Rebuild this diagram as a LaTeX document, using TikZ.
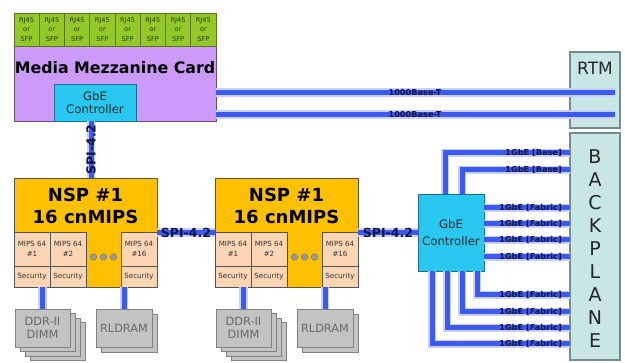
\documentclass[tikz,border=0pt]{standalone}
\usepackage{fontspec}
\setmainfont{DejaVu Sans}
\definecolor{mgreen}{RGB}{146,200,40}
\definecolor{mgreenb}{RGB}{95,115,35}
\definecolor{mgtext}{RGB}{40,60,10}
\definecolor{mpurple}{RGB}{204,155,250}
\definecolor{mpurpleb}{RGB}{100,80,120}
\definecolor{gcyan}{RGB}{40,200,240}
\definecolor{gcyanb}{RGB}{30,110,140}
\definecolor{nyel}{RGB}{255,192,0}
\definecolor{peach}{RGB}{252,213,180}
\definecolor{dkb}{RGB}{85,85,85}
\definecolor{bpfill}{RGB}{200,230,230}
\definecolor{bpb}{RGB}{120,140,140}
\definecolor{gfill}{RGB}{195,195,195}
\definecolor{gbord}{RGB}{130,130,130}
\definecolor{gtext}{RGB}{105,105,105}
\definecolor{lcore}{RGB}{60,90,240}
\definecolor{lglow}{RGB}{200,208,255}
\definecolor{ltext}{RGB}{20,20,70}
\newcommand\fsz[2]{\fontsize{#1}{#2}\selectfont}
\begin{document}
\begin{tikzpicture}[x=1pt,y=-1pt,
  rbox/.style={rectangle, draw, inner sep=0pt, line width=0.9pt, align=center},
  rjcell/.style={rbox, fill=mgreen, draw=mgreenb, minimum width=25.25pt, minimum height=33pt, font=\fsz{6.6}{9.5}, text=mgtext},
  purplebox/.style={rbox, fill=mpurple, draw=mpurpleb},
  gbebox/.style={rbox, fill=gcyan, draw=gcyanb, font=\fsz{11.7}{13}, text=black!85},
  nspbox/.style={rbox, fill=nyel, draw=dkb},
  peachcell/.style={rbox, fill=peach, draw=dkb, minimum width=36pt, font=\fsz{7.1}{10}, text=black!80},
  graybox/.style={rbox, fill=gfill, draw=gbord, font=\fsz{11.3}{13}, text=gtext},
  sidebox/.style={rbox, fill=bpfill, draw=bpb, line width=1.1pt},
  dotc/.style={circle, draw=black!55, fill=black!40, inner sep=0pt, minimum size=6.5pt},
  link/.style={line width=5pt, draw=lcore, preaction={draw=lglow, line width=8.5pt}},
  spilbl/.style={font=\bfseries\fsz{12.5}{14}, text=ltext, inner sep=0pt},
  lbl/.style={font=\bfseries\fsz{8.2}{9}, text=ltext, inner sep=0pt}
]
\useasboundingbox (0,0) rectangle (625,363);

% ---- side boxes
\node[sidebox, minimum width=50pt, minimum height=76pt] (rtm) at (595,90) {};
\node[font=\fsz{17}{18}, text=black!85] (rtmt) at (595,68) {RTM};
\node[sidebox, minimum width=50pt, minimum height=227pt] (bp) at (595,246.5) {};
\foreach \L [count=\k from 0] in {B,A,C,K,P,L,A,N,E}
  \node[font=\fsz{19}{20}, text=black!85] (bpl\k) at (595,{157+22.9*\k}) {\L};

% ---- Media Mezzanine Card
\node[purplebox, minimum width=202pt, minimum height=75pt] (mmc) at (115,83.5) {};
\foreach \i in {1,...,8}
  \node[rjcell] (rj\i) at ({14+25.25*(\i-0.5)},29.5) {RJ45\\or\\SFP};
\node[font=\bfseries\fsz{15.8}{17}, text=black] (mmct) at (115,67.5) {Media Mezzanine Card};
\node[gbebox, minimum width=82pt, minimum height=37pt] (mgbe) at (95,102.5) {GbE\\Controller};

% ---- NSP blocks
\foreach \n/\dx in {1/0,2/201}{
  \node[nspbox, minimum width=143pt, minimum height=109pt] (nsp\n) at ({85.5+\dx},232.5) {};
  \node[font=\bfseries\fsz{18}{22}, align=center] (nspt\n) at ({85.5+\dx},206) {NSP \#1\\16 cnMIPS};
  \node[peachcell, minimum height=34pt] (ma\n) at ({32+\dx},249) {MIPS 64\\\#1};
  \node[peachcell, minimum height=34pt] (mb\n) at ({68+\dx},249) {MIPS 64\\\#2};
  \node[peachcell, minimum height=34pt, minimum width=36pt] (mc\n) at ({139+\dx},249) {MIPS 64\\\#16};
  \node[peachcell, minimum height=21pt] (sa\n) at ({32+\dx},276.5) {Security};
  \node[peachcell, minimum height=21pt] (sb\n) at ({68+\dx},276.5) {Security};
  \node[peachcell, minimum height=21pt] (sc\n) at ({139+\dx},276.5) {Security};
  \foreach \j in {0,1,2}
    \node[dotc] (dot\n\j) at ({93.5+\dx+10*\j},257) {};
  % memories
  \foreach \k in {3,2,1}
    \node[graybox, minimum width=55pt, minimum height=38pt] (ddrb\n\k) at ({42.5+\dx+5*\k},{328+4.5*\k}) {};
  \node[graybox, minimum width=55pt, minimum height=38pt] (ddr\n) at ({42.5+\dx},328) {DDR-II\\DIMM};
  \node[graybox, minimum width=56pt, minimum height=38pt] (rlb\n) at ({129+\dx},333) {};
  \node[graybox, minimum width=56pt, minimum height=38pt] (rl\n) at ({124+\dx},328) {RLDRAM};
}

% ---- big GbE controller
\node[gbebox, minimum width=66pt, minimum height=77pt, font=\fsz{11.7}{17}] (gbe) at (451,232.5) {GbE\\Controller};

% ---- connectors
\foreach \n in {1,2}{
  \draw[link] (ddr\n.north) -- (ddr\n.north |- nsp\n.south);
  \draw[link] (rl\n.north) -- (rl\n.north |- nsp\n.south);
}
\draw[link] ([xshift=-4pt]mgbe.south) -- ([xshift=-4pt]mgbe.south |- nsp1.north)
  node[midway, spilbl, rotate=90] {SPI-4.2};
\draw[link] (nsp1.east) -- (nsp2.west) node[midway, spilbl] {SPI-4.2};
\draw[link] (nsp2.east) -- (gbe.west) node[midway, spilbl] {SPI-4.2};

% 1000Base-T
\coordinate (t1) at (615,92.5);
\coordinate (t2) at (615,114.5);
\draw[link] (t1 -| mmc.east) -- (t1);
\draw[link] (t2 -| mmc.east) -- (t2);
\node[lbl] (t1l) at (415,92.5) {1000Base-T};
\node[lbl] (t2l) at (415,114.5) {1000Base-T};

% backplane ports
\coordinate (p1) at (570,153);
\coordinate (p2) at (570,170);
\coordinate (p3) at (570,208);
\coordinate (p4) at (570,224);
\coordinate (p5) at (570,240);
\coordinate (p6) at (570,257);
\coordinate (p7) at (570,295);
\coordinate (p8) at (570,312);
\coordinate (p9) at (570,328);
\coordinate (p10) at (570,344);
\draw[link] ([xshift=-6pt]gbe.north) |- (p1);
\draw[link] ([xshift=11pt]gbe.north) |- (p2);
\foreach \q in {3,4,5,6}
  \draw[link] (p\q -| gbe.east) -- (p\q);
\draw[link] ([xshift=26pt]gbe.south) |- (p7);
\draw[link] ([xshift=11pt]gbe.south) |- (p8);
\draw[link] ([xshift=-4pt]gbe.south) |- (p9);
\draw[link] ([xshift=-19pt]gbe.south) |- (p10);
\foreach \q in {1,2}
  \node[lbl, anchor=east] (pl\q) at ([xshift=-8pt]p\q) {1GbE [Base]};
\foreach \q in {3,...,10}
  \node[lbl, anchor=east] (pl\q) at ([xshift=-8pt]p\q) {1GbE [Fabric]};
\end{tikzpicture}
\end{document}
